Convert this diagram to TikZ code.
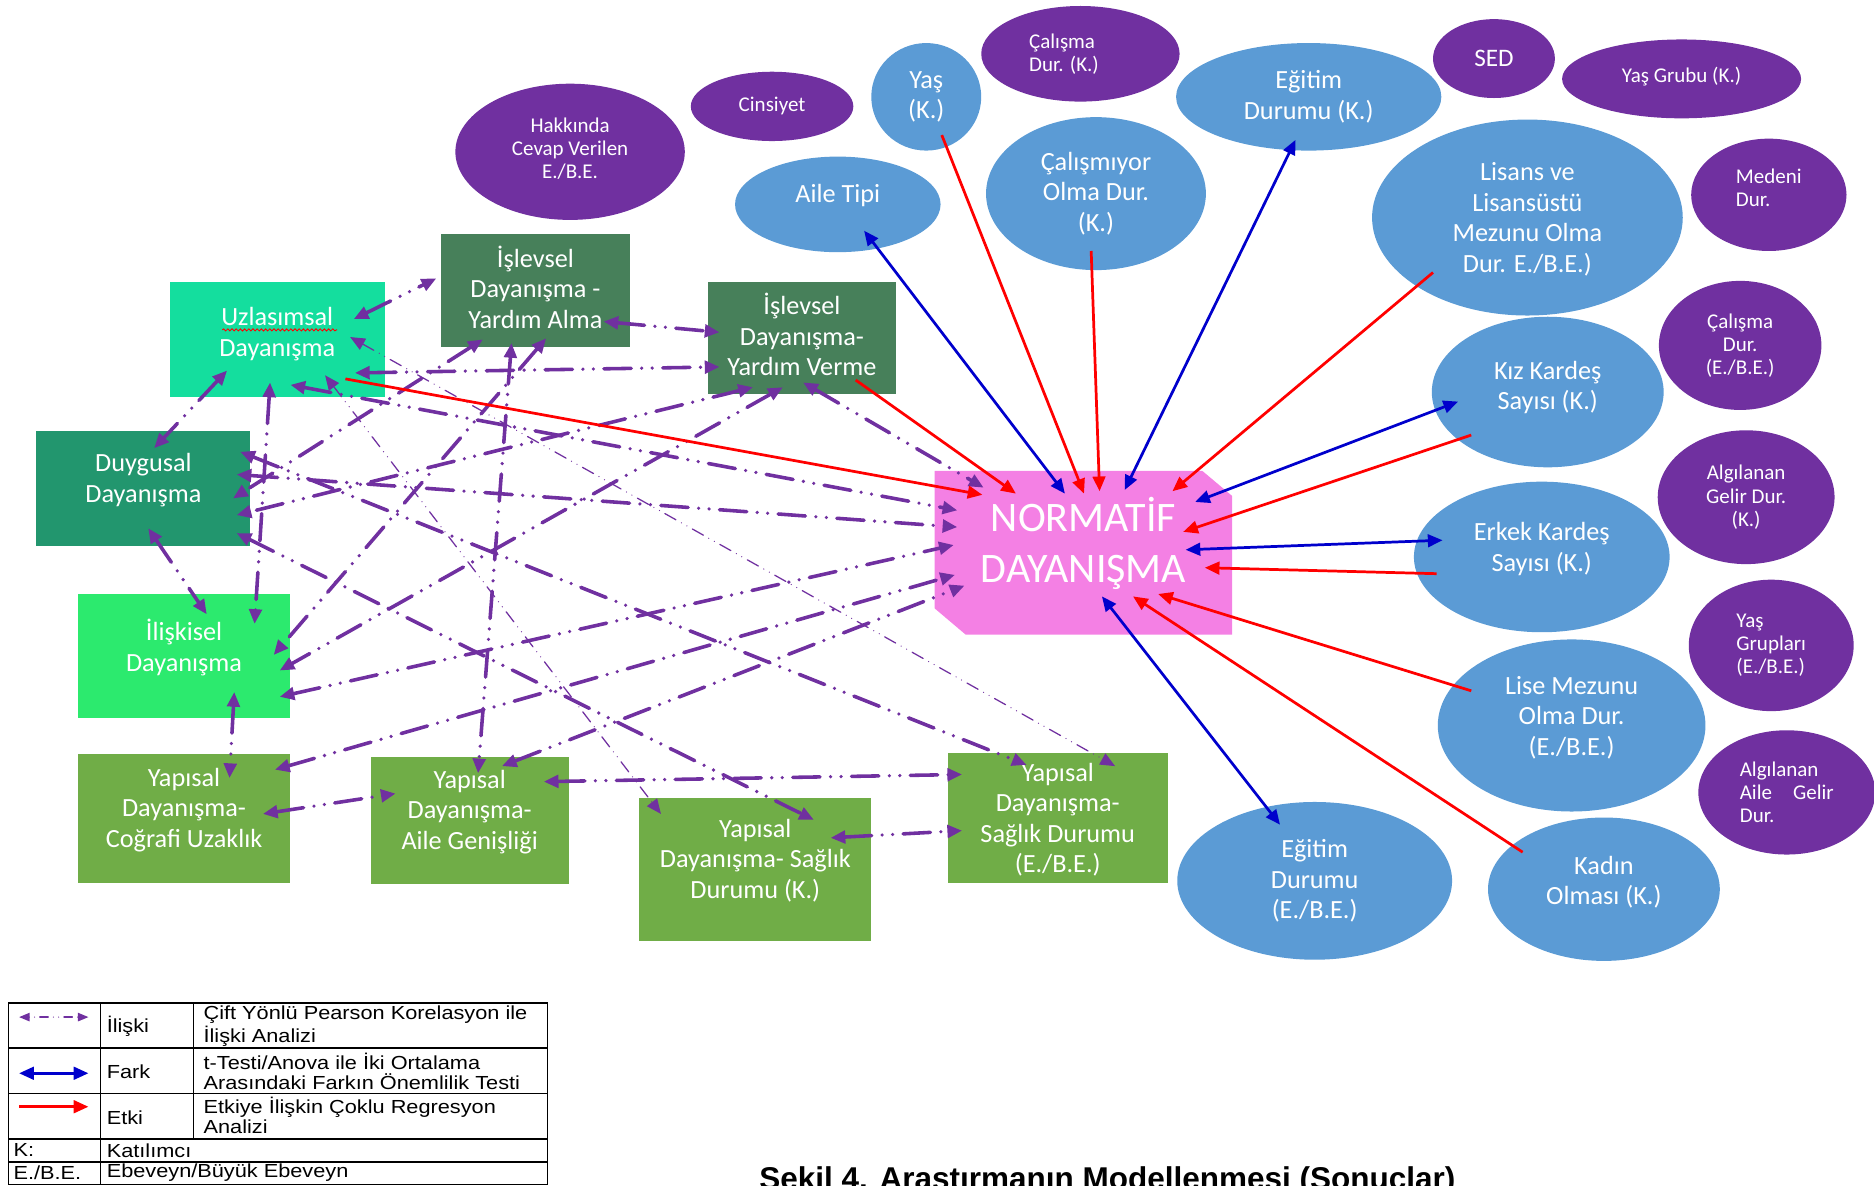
\documentclass[tikz,border=0pt]{standalone}
\usepackage{fontspec}
\setmainfont{Carlito}
\newfontfamily\keyfont[FakeStretch=1.15]{Liberation Sans}
\newfontfamily\capfont{Liberation Sans}
\usetikzlibrary{arrows.meta, shapes.geometric, decorations.pathmorphing}

\definecolor{relcol}{RGB}{112,48,160}
\definecolor{purpfill}{RGB}{112,48,160}
\definecolor{bluefill}{RGB}{91,155,213}
\definecolor{etkicol}{RGB}{255,0,0}
\definecolor{farkcol}{RGB}{0,0,204}
\definecolor{normpink}{RGB}{244,128,228}
\definecolor{uzlcol}{RGB}{20,222,158}
\definecolor{islcol}{RGB}{71,128,90}
\definecolor{duycol}{RGB}{34,150,110}
\definecolor{ilicol}{RGB}{44,234,110}
\definecolor{yapcol}{RGB}{112,173,71}

\tikzset{
  dbox/.style={rectangle, inner sep=0pt, text=white, align=center,
    font=\fontsize{12.5}{14.5}\selectfont, text depth=0.37cm},
  bell/.style={ellipse, inner sep=0pt, fill=bluefill, text=white, align=center,
    font=\fontsize{12.5}{14.5}\selectfont},
  pell/.style={ellipse, inner sep=0pt, fill=purpfill, text=white, align=center,
    font=\fontsize{10}{11}\selectfont},
  rel/.style={relcol, line width=1.7pt, line cap=round,
    dash pattern=on 13pt off 5pt on 0pt off 5pt on 0pt off 5pt,
    >={Triangle[length=7pt,width=6pt]}, <->},
  relthin/.style={relcol, line width=0.6pt, line cap=round,
    dash pattern=on 6pt off 3pt on 0pt off 3pt on 0pt off 3pt,
    >={Triangle[length=7pt,width=6pt]}, <->},
  keyrel/.style={relcol, line width=0.6pt, line cap=round,
    dash pattern=on 0pt off 2.5pt on 0pt off 2.5pt on 4pt off 2.5pt,
    >={Triangle[length=5pt,width=4pt]}, <->},
  etki/.style={etkicol, line width=1.3pt, >={Triangle[length=7pt,width=6pt]}, ->},
  fark/.style={farkcol, line width=1.3pt, >={Triangle[length=7pt,width=6pt]}, <->},
  keytext/.style={anchor=west, inner sep=0pt, align=left,
    font=\keyfont\fontsize{9}{9.6}\selectfont},
  squiggle/.style={red, line width=0.4pt, decorate,
    decoration={snake, amplitude=0.5pt, segment length=2pt}},
}

\begin{document}
\begin{tikzpicture}[x=0.02cm, y=-0.02cm]
\useasboundingbox (0,0) rectangle (1568,992);

% purple ellipses
\node[pell, text depth=0.12cm, minimum width=3.84cm, minimum height=2.28cm] (hak) at (477,127) {Hakkında\\Cevap Verilen\\E./B.E.};
\node[pell, minimum width=2.72cm, minimum height=1.16cm] (cins) at (646,89) {Cinsiyet};
\node[pell, align=left, minimum width=3.32cm, minimum height=1.6cm] (calk) at (904,45) {Çalışma\\Dur. (K.)\hspace*{0.55cm}};
\node[pell, font=\fontsize{12}{14}\selectfont, minimum width=2.04cm, minimum height=1.32cm] (sed) at (1250,49) {SED};
\node[pell, text depth=0.15cm, minimum width=4cm, minimum height=1.32cm] (yasgr) at (1407,66) {Yaş Grubu (K.)};
\node[pell, align=left, text depth=0.25cm, minimum width=2.6cm, minimum height=1.88cm] (med) at (1480,163) {Medeni\\Dur.};
\node[pell, minimum width=2.72cm, minimum height=2.16cm] (calebe) at (1456,289) {Çalışma\\Dur.\\(E./B.E.)};
\node[pell, minimum width=2.96cm, minimum height=2.24cm] (algk) at (1461,416) {Algılanan\\Gelir Dur.\\(K.)};
\node[pell, align=left, minimum width=2.76cm, minimum height=2.2cm] (yasgrp) at (1482,540) {Yaş\\Grupları\\(E./B.E.)};
\node[pell, align=left, minimum width=2.96cm, minimum height=2.08cm] (algaile) at (1495,663) {Algılanan\\Aile\quad Gelir\\Dur.};

% blue ellipses
\node[bell, minimum width=1.84cm, minimum height=1.8cm] (yas) at (775,81) {Yaş\\(K.)};
\node[bell, text depth=0.37cm, minimum width=3.44cm, minimum height=1.6cm] (aile) at (701,171) {Aile Tipi};
\node[bell, minimum width=3.68cm, minimum height=2.56cm] (calmiyor) at (917,162) {Çalışmıyor\\Olma Dur.\\(K.)};
\node[bell, minimum width=4.44cm, minimum height=1.8cm] (egk) at (1095,81) {Eğitim\\Durumu (K.)};
\node[bell, text depth=0cm, minimum width=5.2cm, minimum height=3.28cm] (lisans) at (1278,182) {Lisans ve\\Lisansüstü\\Mezunu Olma\\Dur. E./B.E.)};
\node[bell, text depth=0.23cm, minimum width=3.88cm, minimum height=2.52cm] (kiz) at (1295,328) {Kız Kardeş\\Sayısı (K.)};
\node[bell, text depth=0.33cm, minimum width=4.28cm, minimum height=2.52cm] (erkek) at (1290,466) {Erkek Kardeş\\Sayısı (K.)};
\node[bell, text depth=0.33cm, minimum width=4.48cm, minimum height=2.88cm] (lise) at (1315,607) {Lise Mezunu\\Olma Dur.\\(E./B.E.)};
\node[bell, minimum width=4.6cm, minimum height=2.64cm] (egebe) at (1100,737) {Eğitim\\Durumu\\(E./B.E.)};
\node[bell, text depth=0.29cm, minimum width=3.88cm, minimum height=2.4cm] (kadin) at (1342,744) {Kadın\\Olması (K.)};

% dayanisma boxes
\node[dbox, fill=uzlcol, text depth=0.25cm, minimum width=3.6cm, minimum height=1.92cm] (U) at (232,284) {Uzlasımsal\\Dayanışma};
\node[dbox, fill=islcol, text depth=0.12cm, minimum width=3.16cm, minimum height=1.88cm] (FA) at (448,243) {İşlevsel\\Dayanışma -\\Yardım Alma};
\node[dbox, fill=islcol, text depth=0.12cm, minimum width=3.16cm, minimum height=1.88cm] (FV) at (671,283) {İşlevsel\\Dayanışma-\\Yardım Verme};
\node[dbox, fill=duycol, minimum width=3.58cm, minimum height=1.92cm] (D) at (120,409) {Duygusal\\Dayanışma};
\node[dbox, fill=ilicol, minimum width=3.56cm, minimum height=2.08cm] (I) at (154,549) {İlişkisel\\Dayanışma};
\node[dbox, fill=yapcol, minimum width=3.56cm, minimum height=2.16cm] (YC) at (154,685) {Yapısal\\Dayanışma-\\Coğrafi Uzaklık};
\node[dbox, fill=yapcol, minimum width=3.32cm, minimum height=2.14cm] (YA) at (393,686.5) {Yapısal\\Dayanışma-\\Aile Genişliği};
\node[dbox, fill=yapcol, minimum width=3.88cm, minimum height=2.38cm] (YSK) at (632,727.5) {Yapısal\\Dayanışma- Sağlık\\Durumu (K.)};
\node[dbox, fill=yapcol, text depth=0cm, minimum width=3.68cm, minimum height=2.18cm] (YSE) at (885,684.5) {Yapısal\\Dayanışma-\\Sağlık Durumu\\(E./B.E.)};
\draw[squiggle] ([shift={(-46,-8)}]U.center) -- ([shift={(50,-8)}]U.center);

% normatif dayanisma
\fill[normpink] (782,394) -- (1006,394) -- (1031,415) -- (1031,531) -- (808,531) -- (782,509) -- cycle;
\node[text=white, align=center, font=\fontsize{20}{24}\selectfont] (N) at (906.5,454.5) {NORMATİF\\DAYANIŞMA};

% iliski (pearson)
\draw[rel] ([shift={(64,-17)}]U.center) -- ([shift={(-83,-10)}]FA.center);
\draw[rel] ([shift={(-42,26)}]U.center) -- ([shift={(9,-34)}]D.center);
\draw[rel] ([shift={(-6,36)}]U.center) -- ([shift={(59,-27)}]I.center);
\draw[rel] ([shift={(65,28)}]U.center) -- ([shift={(-69,24)}]FV.center);
\draw[rel] ([shift={(11,38)}]U.center) -- ([shift={(-105.5,-27.5)}]N.center);
\draw[relthin] ([shift={(40,30)}]U.center) -- ([shift={(-79,-46.5)}]YSK.center);
\draw[relthin] ([shift={(61,-2)}]U.center) -- ([shift={(48,-43.5)}]YSE.center);
\draw[rel] ([shift={(57,26)}]FA.center) -- ([shift={(-69,-5)}]FV.center);
\draw[rel] ([shift={(-44,41)}]FA.center) -- ([shift={(75,8)}]D.center);
\draw[rel] ([shift={(9,40)}]FA.center) -- ([shift={(75,-1)}]I.center);
\draw[rel] ([shift={(-20,44)}]FA.center) -- ([shift={(7,-39.5)}]YA.center);
\draw[rel] ([shift={(-41,41)}]FV.center) -- ([shift={(78,22)}]D.center);
\draw[rel] ([shift={(-16,41)}]FV.center) -- ([shift={(80,12)}]I.center);
\draw[rel] ([shift={(1,37)}]FV.center) -- ([shift={(-83.5,-46.5)}]N.center);
\draw[rel] ([shift={(78,-12)}]D.center) -- ([shift={(-105.5,-13.5)}]N.center);
\draw[rel] ([shift={(4,33)}]D.center) -- ([shift={(19,-35)}]I.center);
\draw[rel] ([shift={(81,-31)}]D.center) -- ([shift={(-26,-44.5)}]YSE.center);
\draw[rel] ([shift={(78,37)}]D.center) -- ([shift={(49,-41.5)}]YSK.center);
\draw[rel] ([shift={(80,34)}]I.center) -- ([shift={(-108.5,1.5)}]N.center);
\draw[rel] ([shift={(42,30)}]I.center) -- ([shift={(38,-34)}]YC.center);
\draw[rel] ([shift={(76,-41)}]YC.center) -- ([shift={(-107.5,26.5)}]N.center);
\draw[rel] ([shift={(66,-4)}]YC.center) -- ([shift={(-62,-22.5)}]YA.center);
\draw[rel] ([shift={(27,-45.5)}]YA.center) -- ([shift={(-99.5,35.5)}]N.center);
\draw[rel] ([shift={(62,-32.5)}]YA.center) -- ([shift={(-80,-36.5)}]YSE.center);
\draw[rel] ([shift={(63,-26.5)}]YSK.center) -- ([shift={(-80,10.5)}]YSE.center);

% etki (regresyon)
\draw[etki] ([shift={(57,33)}]U.center) -- ([shift={(-84.5,-40.5)}]N.center);
\draw[etki] ([shift={(45,35)}]FV.center) -- ([shift={(-56.5,-41.5)}]N.center);
\draw[etki] ([shift={(13,32)}]yas.center) -- ([shift={(0.5,-41.5)}]N.center);
\draw[etki] ([shift={(-4,48)}]calmiyor.center) -- ([shift={(13.5,-43.5)}]N.center);
\draw[etki] ([shift={(-79,46)}]lisans.center) -- ([shift={(74.5,-43.5)}]N.center);
\draw[etki] ([shift={(-64,36)}]kiz.center) -- ([shift={(83.5,-9.5)}]N.center);
\draw[etki] ([shift={(-88,14)}]erkek.center) -- ([shift={(101.5,20.5)}]N.center);
\draw[etki] ([shift={(-84,-29)}]lise.center) -- ([shift={(62.5,42.5)}]N.center);
\draw[etki] ([shift={(-68,-31)}]kadin.center) -- ([shift={(41.5,44.5)}]N.center);

% fark (t-testi/anova)
\draw[fark] ([shift={(22,22)}]aile.center) -- ([shift={(-15.5,-41.5)}]N.center);
\draw[fark] ([shift={(-11,36)}]egk.center) -- ([shift={(34.5,-44.5)}]N.center);
\draw[fark] ([shift={(-75,8)}]kiz.center) -- ([shift={(93.5,-34.5)}]N.center);
\draw[fark] ([shift={(-83,-14)}]erkek.center) -- ([shift={(85.5,5.5)}]N.center);
\draw[fark] ([shift={(-29,-47)}]egebe.center) -- ([shift={(15.5,44.5)}]N.center);

% legend
\draw[line width=0.8pt] (7,839) rectangle (458,991);
\foreach \y in {877,915,953,972} {\draw[line width=0.8pt] (7,\y) -- (458,\y);}
\draw[line width=0.8pt] (84,839) -- (84,991);
\draw[line width=0.8pt] (162,839) -- (162,953);
\coordinate (keyrelA) at (16,851);
\coordinate (keyrelB) at (74,851);
\coordinate (keyfarkA) at (16,898);
\coordinate (keyfarkB) at (74,898);
\coordinate (keyetkiA) at (16,926);
\coordinate (keyetkiB) at (74,926);
\draw[keyrel] (keyrelA) -- (keyrelB);
\draw[fark] (keyfarkA) -- (keyfarkB);
\draw[etki] (keyetkiA) -- (keyetkiB);
\node[keytext] (kiliski) at (89,859) {İlişki};
\node[keytext] (kiliskid) at (170,858.5) {Çift Yönlü Pearson Korelasyon ile\\İlişki Analizi};
\node[keytext] (kfark) at (89,897) {Fark};
\node[keytext] (kfarkd) at (170,896.5) {t-Testi/Anova ile İki Ortalama\\Arasındaki Farkın Önemlilik Testi};
\node[keytext] (ketki) at (89,935) {Etki};
\node[keytext] (ketkid) at (170,933.5) {Etkiye İlişkin Çoklu Regresyon\\Analizi};
\node[keytext] (kk) at (11,962.5) {K:};
\node[keytext] (kkd) at (89,962.5) {Katılımcı};
\node[keytext] (kebe) at (11,981.5) {E./B.E.};
\node[keytext] (kebed) at (89,981.5) {Ebeveyn/Büyük Ebeveyn};

% caption
\node[anchor=base west, inner sep=0pt, font=\capfont\bfseries\fontsize{15}{18}\selectfont] (cap) at (635,995) {Şekil 4. Araştırmanın Modellenmesi (Sonuçlar)};
\end{tikzpicture}
\end{document}
